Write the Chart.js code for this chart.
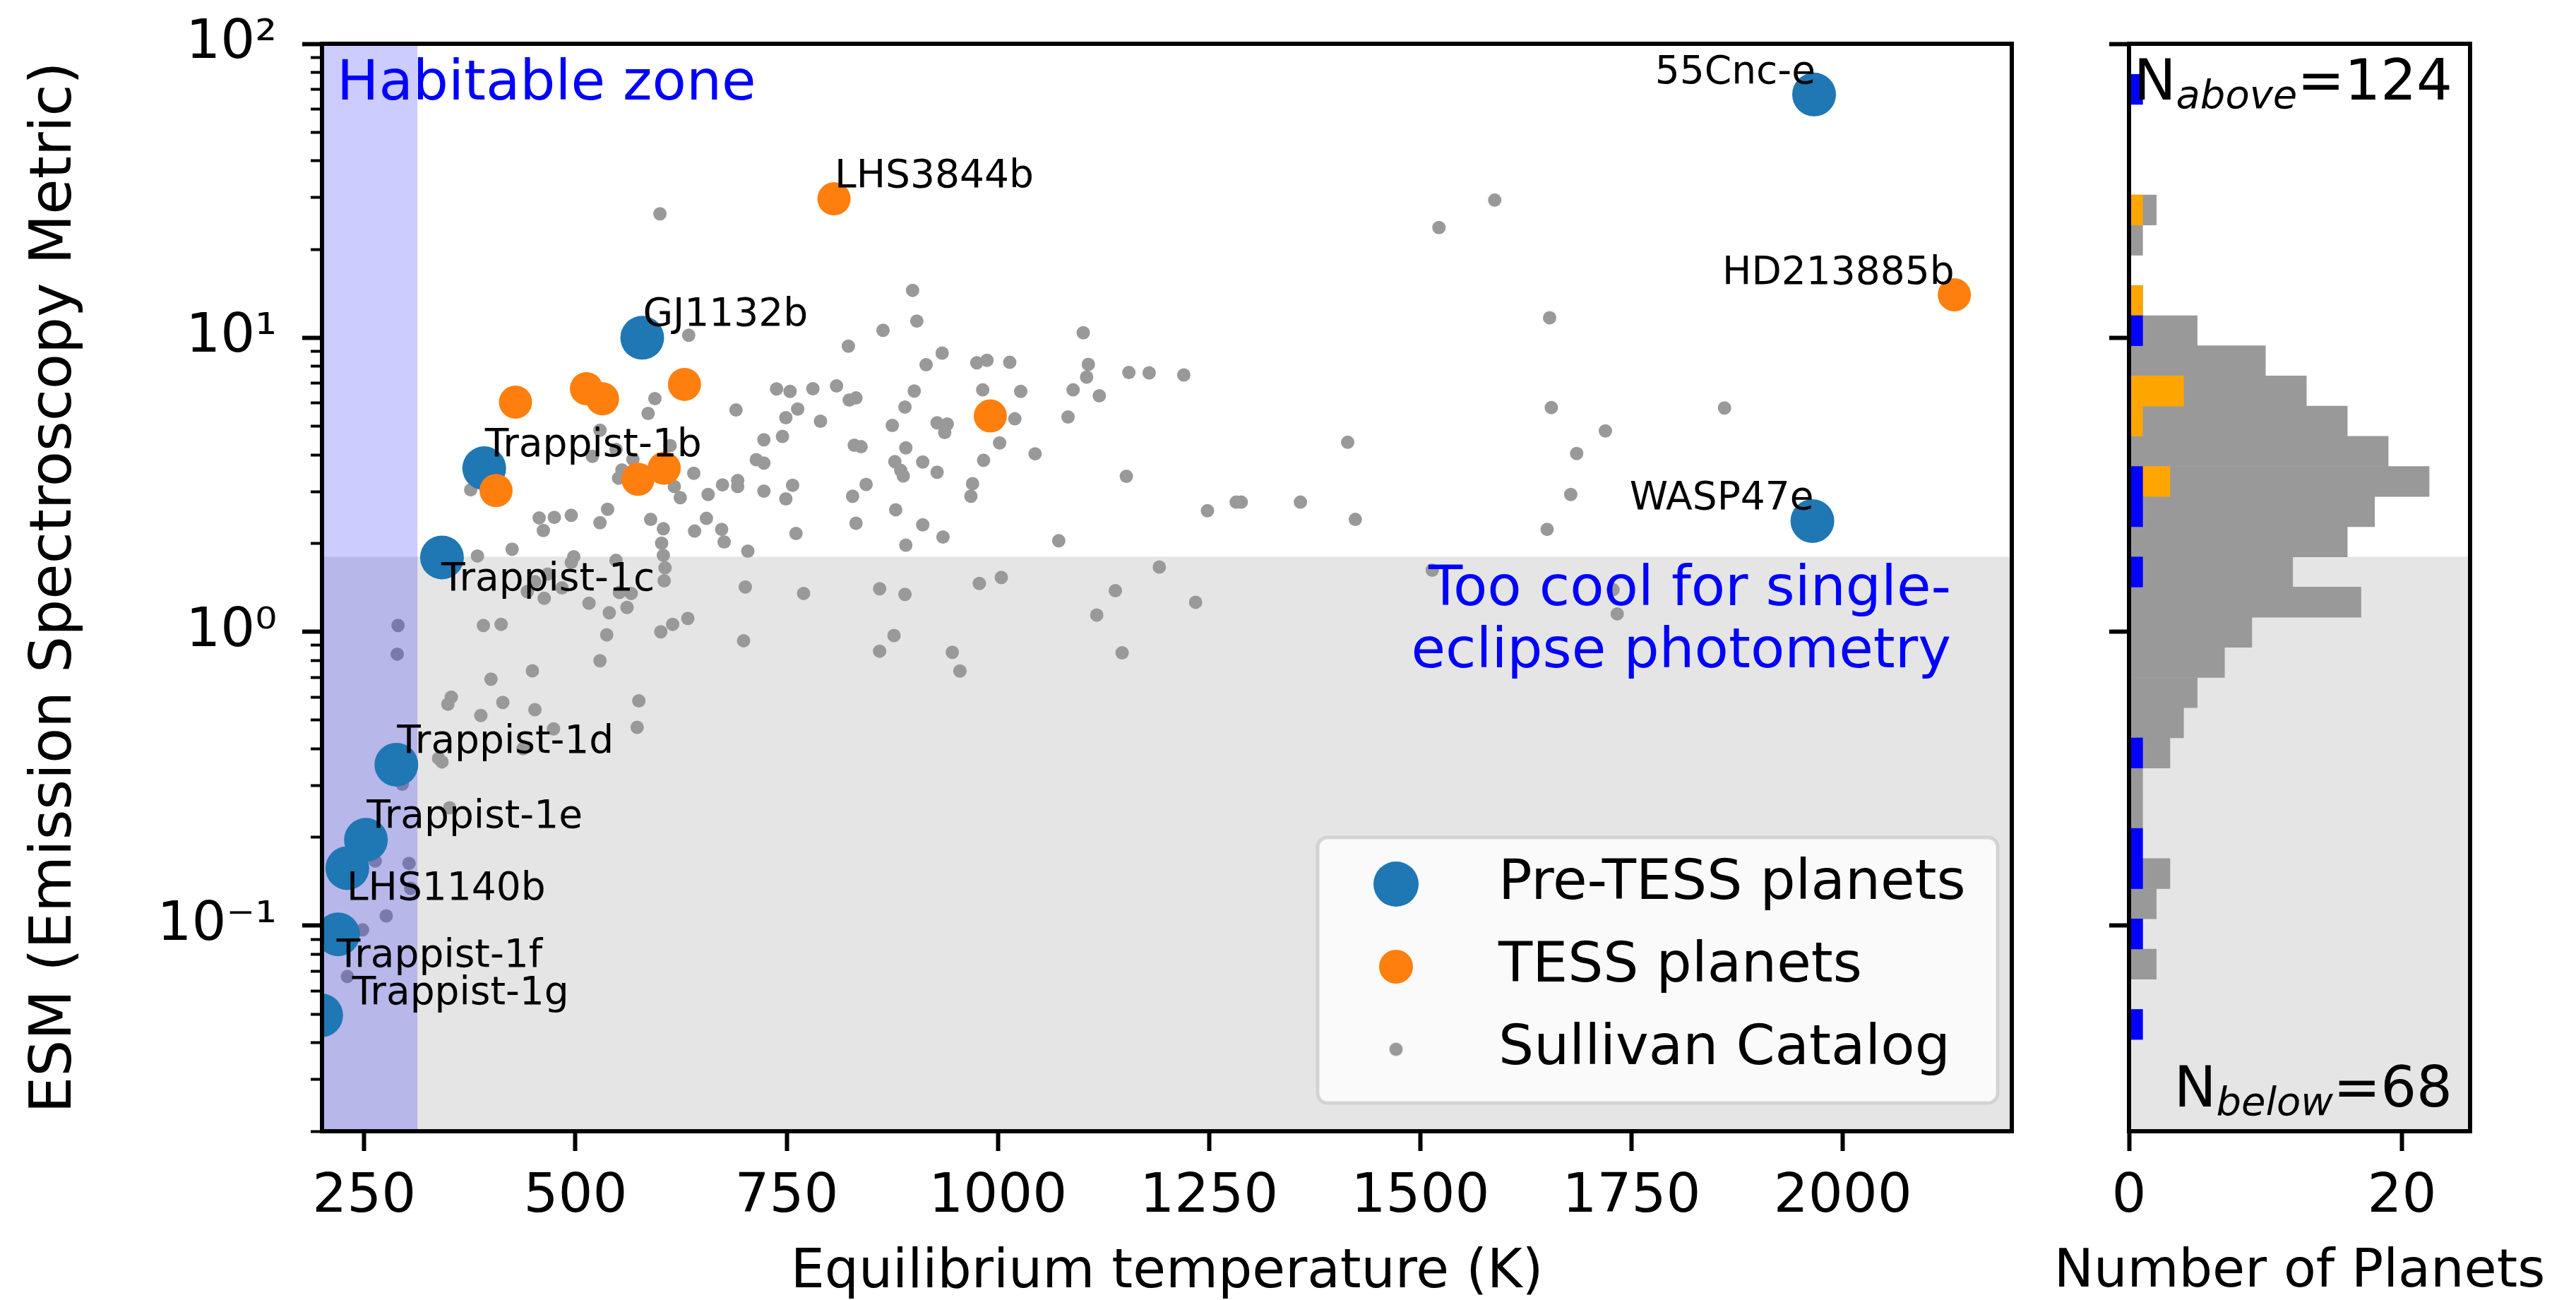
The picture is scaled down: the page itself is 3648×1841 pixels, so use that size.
<!DOCTYPE html>
<html>
<head>
<meta charset="utf-8">
<title>ESM vs equilibrium temperature</title>
<script src="https://cdn.jsdelivr.net/npm/chart.js@4.4.1/dist/chart.umd.min.js"></script>
<style>
  html, body { margin: 0; padding: 0; background: #ffffff; }
  body { position: relative; width: 3648px; height: 1841px; overflow: hidden; }
  canvas { position: absolute; top: 0; }
  #esmChart { left: 0; }
  #histChart { left: 2875px; }
</style>
</head>
<body>
<canvas id="esmChart" width="2880" height="1841" style="width:2880px;height:1841px"></canvas>
<canvas id="histChart" width="762" height="1841" style="width:762px;height:1841px"></canvas>
<script>
// ---------------- data ----------------
const preTessNames = ['55Cnc-e', 'GJ1132b', 'Trappist-1b', 'WASP47e', 'Trappist-1c',
                      'Trappist-1d', 'Trappist-1e', 'LHS1140b', 'Trappist-1f', 'Trappist-1g'];
const preTessTeq = [1966, 579, 392, 1964, 342, 288, 252, 230, 219, 199];
const preTessEsm = [67.2, 10.0, 3.60, 2.38, 1.79, 0.353, 0.196, 0.157, 0.0935, 0.0496];

const tessNames = ['LHS3844b', 'HD213885b', '', '', '', '', '', '', '', ''];
const tessTeq = [806, 2132, 429, 513, 532, 629, 991, 406, 574, 605];
const tessEsm = [29.7, 14.0, 6.04, 6.71, 6.20, 6.94, 5.42, 3.02, 3.30, 3.60];

const sullivanTeq = [
  600, 1588, 1522, 1653, 1655, 1860, 1719, 1685, 1414, 1678, 1650, 1423, 1358, 1288, 1282, 1728, 1733, 1514,
  634, 594, 586, 690, 529, 612, 548, 520, 568, 723, 714, 723, 555, 551, 640, 376, 617, 624, 674, 692, 692, 657, 723,
  457, 475, 495, 462, 538, 529, 589, 604, 602, 604, 606, 605, 641, 655, 673, 676, 704, 425, 384, 498, 548,
  495, 467, 452, 443, 463, 484, 516, 540, 561, 566, 552, 701, 770, 860, 890, 978, 1004,
  391, 412, 290, 289, 537, 529, 601, 615, 633, 699, 449, 400, 353, 349, 414, 388, 452, 575, 573, 474, 438, 338, 342, 295, 351, 263, 303, 305,
  276, 248, 230,
  877, 860, 946, 955, 1139, 1117, 1234, 1147,
  899, 904, 864, 823, 934, 915, 975, 987, 1014, 1101, 1107, 1105, 1155, 1179, 1220, 1089, 1120, 1083, 982, 1027,
  1020, 1002, 1044, 983, 970, 968, 1152, 1248, 1072, 1191,
  738, 754, 781, 809, 824, 832, 763, 749, 790, 901, 890, 875, 928, 940, 937, 745, 830, 838, 891, 878, 885, 888,
  911, 928, 757, 749, 844, 828, 879, 832, 911, 935, 891, 761
];
const sullivanEsm = [
  26.4, 29.4, 23.7, 11.7, 5.79, 5.77, 4.82, 4.04, 4.41, 2.93, 2.23, 2.41, 2.76, 2.76, 2.76, 1.39, 1.15, 1.62,
  10.2, 6.21, 5.53, 5.68, 4.85, 4.30, 4.17, 3.95, 3.86, 4.50, 3.85, 3.75, 3.55, 3.33, 3.46, 3.04, 3.12, 2.86, 3.16, 3.27, 3.12, 2.93, 3.01,
  2.44, 2.45, 2.49, 2.21, 2.61, 2.35, 2.41, 2.24, 2.00, 1.82, 1.65, 1.49, 2.20, 2.43, 2.23, 2.02, 1.88, 1.91, 1.81, 1.80, 1.75,
  1.72, 1.57, 1.48, 1.37, 1.30, 1.41, 1.25, 1.16, 1.21, 1.35, 1.36, 1.42, 1.35, 1.40, 1.34, 1.46, 1.53,
  1.05, 1.06, 1.05, 0.839, 0.976, 0.797, 1.00, 1.06, 1.11, 0.932, 0.736, 0.690, 0.599, 0.567, 0.575, 0.519, 0.543, 0.582,
  0.473, 0.467, 0.400, 0.371, 0.361, 0.303, 0.252, 0.166, 0.163, 0.134,
  0.108, 0.0969, 0.0672,
  0.971, 0.859, 0.851, 0.735, 1.38, 1.14, 1.26, 0.848,
  14.5, 11.4, 10.6, 9.36, 8.87, 8.10, 8.22, 8.38, 8.25, 10.4, 8.12, 7.35, 7.62, 7.60, 7.47, 6.65, 6.35, 5.38, 6.65, 6.57,
  5.30, 4.39, 4.03, 3.83, 3.19, 2.89, 3.38, 2.58, 2.04, 1.66,
  6.70, 6.57, 6.71, 6.86, 6.14, 6.24, 5.72, 5.35, 5.20, 6.59, 5.81, 5.03, 5.14, 5.09, 4.76, 4.62, 4.31, 4.26, 4.22, 3.79, 3.54, 3.39,
  3.78, 3.49, 3.15, 2.83, 3.17, 2.89, 2.60, 2.34, 2.31, 2.10, 1.97, 2.16
];

// histogram: ESM bin centres (log-spaced) and counts per bin
const histBinEsm = [0.04616, 0.05847, 0.07405, 0.09378, 0.1188, 0.1504, 0.1905, 0.2413,
                    0.3056, 0.3870, 0.4901, 0.6208, 0.7861, 0.9956, 1.261, 1.597,
                    2.023, 2.562, 3.244, 4.109, 5.204, 6.590, 8.346, 10.571,
                    13.387, 16.955, 21.474, 27.195, 34.444, 43.622, 55.25, 69.97];
const histSullivan = [0, 0, 2, 1, 2, 3, 0, 1, 1, 3, 4, 5, 7, 9, 17, 12, 16, 18, 22, 19, 16, 13, 10, 5, 1, 0, 1, 2, 0, 0, 0, 0];
const histTess     = [0, 0, 0, 0, 0, 0, 0, 0, 0, 0, 0, 0, 0, 0, 0, 0, 0, 0, 3, 0, 1, 4, 0, 0, 1, 0, 0, 1, 0, 0, 0, 0];
const histPreTess  = [1, 0, 0, 1, 0, 1, 1, 0, 0, 1, 0, 0, 0, 0, 0, 1, 0, 1, 1, 0, 0, 0, 0, 1, 0, 0, 0, 0, 0, 0, 0, 1];

// axes
const teqRange = [200, 2200];
const esmRange = [0.02, 100];
const countRange = [0, 25];
const xTickValues = [250, 500, 750, 1000, 1250, 1500, 1750, 2000];
const yTickValues = [0.02, 0.03, 0.04, 0.05, 0.06, 0.07, 0.08, 0.09,
                     0.1, 0.2, 0.3, 0.4, 0.5, 0.6, 0.7, 0.8, 0.9,
                     1, 2, 3, 4, 5, 6, 7, 8, 9,
                     10, 20, 30, 40, 50, 60, 70, 80, 90, 100];
const yTickLabels = { 0.1: '10\u207B\u00B9', 1: '10\u2070', 10: '10\u00B9', 100: '10\u00B2' };
const histTickValues = [0, 20];
const histYTickValues = [0.1, 1, 10, 100];

// regions and summary numbers
const esmCut = 1.8;
const habitableTeq = [200, 313];
const nAbove = 124;
const nBelow = 68;

// ---------------- styling ----------------
const FONT = 'DejaVu Sans';
Chart.defaults.font.family = FONT;
Chart.defaults.color = '#000000';

const COLORS = {
  pre: '#1f77b4', tess: '#ff7f0e', sullivan: '#999999',
  band: '#e5e5e5', hz: 'rgba(0, 0, 255, 0.2)', note: '#0000ff',
  histTess: '#ffa500', histPre: '#0000ff'
};
const RADIUS = { pre: 31, tess: 23.5, sullivan: 9.5 };
const LEGEND_RADIUS = [32, 24, 9.5];
const FRAME_W = 6;
const TICK_LEN = 28;
const TICK_FONT = 77;

const labelPlacement = {
  default:      { dx: 1,  dy: -17, align: 'left' },
  '55Cnc-e':    { dx: 2,  dy: -16, align: 'right' },
  'HD213885b':  { dx: 0,  dy: -15, align: 'right' },
  'WASP47e':    { dx: 2,  dy: -17, align: 'right' },
  'Trappist-1c':{ dx: -1, dy: 47,  align: 'left' },
  'LHS1140b':   { dx: -1, dy: 45,  align: 'left' },
  'Trappist-1f':{ dx: -2, dy: 46,  align: 'left' },
  'Trappist-1g':{ dx: 44, dy: -16, align: 'left' }
};

const legendBox = { x: 1866, y: 1186, w: 963, h: 376, r: 14, left: 1833.5, top: 1174.5 };

const pairs = (xs, ys) => xs.map((v, i) => ({ x: v, y: ys[i] }));

function markerCanvas(color, r) {
  const c = document.createElement('canvas');
  const s = Math.ceil(2 * r + 4);
  c.width = s; c.height = s;
  const g = c.getContext('2d');
  g.fillStyle = color;
  g.beginPath(); g.arc(s / 2, s / 2, r, 0, Math.PI * 2); g.fill();
  return c;
}

function drawText(ctx, text, x, y, font, color, align, baseline) {
  ctx.save();
  ctx.font = font;
  ctx.fillStyle = color;
  ctx.textAlign = align || 'left';
  ctx.textBaseline = baseline || 'alphabetic';
  ctx.fillText(text, x, y);
  ctx.restore();
}

function roundRectPath(ctx, x, y, w, h, r) {
  ctx.beginPath();
  ctx.moveTo(x + r, y);
  ctx.lineTo(x + w - r, y); ctx.arcTo(x + w, y, x + w, y + r, r);
  ctx.lineTo(x + w, y + h - r); ctx.arcTo(x + w, y + h, x + w - r, y + h, r);
  ctx.lineTo(x + r, y + h); ctx.arcTo(x, y + h, x, y + h - r, r);
  ctx.lineTo(x, y + r); ctx.arcTo(x, y, x + r, y, r);
  ctx.closePath();
}

const isMajor = c => !!(c.tick && c.tick.major);
const tickWidth = c => isMajor(c) ? 6 : 4;
const tickDash = c => isMajor(c) ? [] : [0, 12, 40, 40];

// ---------------- scatter panel ----------------
const esmPanel = {
  id: 'esmPanel',
  afterLayout(chart) {
    const lg = chart.legend;
    if (!lg) return;
    lg.left = legendBox.left; lg.top = legendBox.top;
    lg.right = lg.left + 1200; lg.bottom = lg.top + 500;
  },
  beforeDraw(chart) {
    const { ctx, chartArea: a, scales: { y } } = chart;
    const yc = y.getPixelForValue(esmCut);
    ctx.save();
    ctx.fillStyle = '#ffffff';
    ctx.fillRect(a.left, a.top, a.right - a.left, a.bottom - a.top);
    ctx.fillStyle = COLORS.band;
    ctx.fillRect(a.left, yc, a.right - a.left, a.bottom - yc);
    roundRectPath(ctx, legendBox.x, legendBox.y, legendBox.w, legendBox.h, legendBox.r);
    ctx.fillStyle = 'rgba(255, 255, 255, 0.8)';
    ctx.fill();
    ctx.lineWidth = 5;
    ctx.strokeStyle = 'rgba(204, 204, 204, 0.8)';
    ctx.stroke();
    ctx.restore();
  },
  afterDatasetDraw(chart, args) {
    if (chart.data.datasets[args.index].label !== 'Sullivan Catalog') return;
    const { ctx, chartArea: a, scales: { x } } = chart;
    const x0 = x.getPixelForValue(habitableTeq[0]);
    const x1 = x.getPixelForValue(habitableTeq[1]);
    ctx.save();
    ctx.fillStyle = COLORS.hz;
    ctx.fillRect(x0, a.top, x1 - x0, a.bottom - a.top);
    ctx.restore();
  },
  afterDatasetsDraw(chart) {
    const { ctx, chartArea: a, scales: { x, y } } = chart;
    const labelFont = '55px "' + FONT + '"';
    [[preTessNames, preTessTeq, preTessEsm], [tessNames, tessTeq, tessEsm]].forEach(([names, teq, esm]) => {
      names.forEach((name, i) => {
        if (!name) return;
        const p = labelPlacement[name] || labelPlacement.default;
        drawText(ctx, name, x.getPixelForValue(teq[i]) + p.dx, y.getPixelForValue(esm[i]) + p.dy,
                 labelFont, '#000000', p.align);
      });
    });
    const noteFont = '79px "' + FONT + '"';
    drawText(ctx, 'Habitable zone', 477, 141, noteFont, COLORS.note, 'left');
    drawText(ctx, 'Too cool for single-', 2763, 857, noteFont, COLORS.note, 'right');
    drawText(ctx, 'eclipse photometry', 2763, 945, noteFont, COLORS.note, 'right');
    ctx.save();
    ctx.lineWidth = FRAME_W;
    ctx.strokeStyle = '#000000';
    ctx.strokeRect(a.left, a.top, a.right - a.left, a.bottom - a.top);
    ctx.restore();
  }
};

const legendMarkers = [
  markerCanvas(COLORS.pre, LEGEND_RADIUS[0]),
  markerCanvas(COLORS.tess, LEGEND_RADIUS[1]),
  markerCanvas(COLORS.sullivan, LEGEND_RADIUS[2])
];

new Chart(document.getElementById('esmChart'), {
  type: 'scatter',
  data: {
    datasets: [
      { label: 'Pre-TESS planets', data: pairs(preTessTeq, preTessEsm), backgroundColor: COLORS.pre,
        pointRadius: RADIUS.pre, pointBorderWidth: 0, order: 1 },
      { label: 'TESS planets', data: pairs(tessTeq, tessEsm), backgroundColor: COLORS.tess,
        pointRadius: RADIUS.tess, pointBorderWidth: 0, order: 0 },
      { label: 'Sullivan Catalog', data: pairs(sullivanTeq, sullivanEsm), backgroundColor: COLORS.sullivan,
        pointRadius: RADIUS.sullivan, pointBorderWidth: 0, order: 2 }
    ]
  },
  options: {
    responsive: false, animation: false, devicePixelRatio: 1, events: [],
    layout: { padding: { left: 0, right: 12, top: 62, bottom: 0 } },
    plugins: {
      tooltip: { enabled: false },
      legend: {
        display: true, position: 'chartArea', align: 'start',
        labels: {
          usePointStyle: true, pointStyleWidth: 211, padding: 38,
          font: { size: 79 }, color: '#000000',
          generateLabels: chart => chart.data.datasets.map((ds, i) => ({
            text: ds.label, pointStyle: legendMarkers[i], fillStyle: ds.backgroundColor,
            strokeStyle: ds.backgroundColor, lineWidth: 0, hidden: false, datasetIndex: i, fontColor: '#000000'
          }))
        }
      }
    },
    scales: {
      x: {
        type: 'linear', position: 'bottom', min: teqRange[0], max: teqRange[1],
        afterBuildTicks: s => { s.ticks = xTickValues.map(v => ({ value: v })); },
        afterFit: s => { s.height = 239; },
        border: { display: false },
        grid: { drawOnChartArea: false, drawTicks: true, tickLength: TICK_LEN, tickWidth: 6, tickColor: '#000000' },
        ticks: { font: { size: TICK_FONT }, padding: 20, maxRotation: 0, autoSkip: false, color: '#000000',
                 callback: v => String(v) },
        title: { display: true, text: 'Equilibrium temperature (K)', color: '#000000',
                 font: { size: 76, lineHeight: 1 }, padding: { top: 0, bottom: 0 } }
      },
      y: {
        type: 'logarithmic', position: 'left', min: esmRange[0], max: esmRange[1],
        afterBuildTicks: s => { s.ticks = yTickValues.map(v => ({ value: v, major: (v in yTickLabels) })); },
        afterFit: s => { s.width = 456; },
        border: { display: false },
        grid: { drawOnChartArea: false, drawTicks: true, tickLength: TICK_LEN, tickWidth: tickWidth,
                tickBorderDash: tickDash, tickColor: '#000000' },
        ticks: { font: { size: TICK_FONT, lineHeight: 0.5 }, padding: 36, autoSkip: false, color: '#000000',
                 callback: v => (yTickLabels[v] !== undefined ? yTickLabels[v] : '') },
        title: { display: true, text: 'ESM (Emission Spectroscopy Metric)', color: '#000000',
                 font: { size: 82, lineHeight: 1 }, padding: { top: 38, bottom: 0 } }
      }
    }
  },
  plugins: [esmPanel]
});

// ---------------- histogram panel ----------------
function drawCountLabel(ctx, sub, value, xRight, yBase) {
  const big = '80px "' + FONT + '"';
  const small = 'italic 56px "' + FONT + '"';
  ctx.save();
  ctx.fillStyle = '#000000';
  ctx.textBaseline = 'alphabetic';
  ctx.textAlign = 'left';
  ctx.font = big;
  const wN = ctx.measureText('N').width;
  const tail = '=' + value;
  const wT = ctx.measureText(tail).width;
  ctx.font = small;
  const wS = ctx.measureText(sub).width;
  let xx = xRight - (wN + wS + wT);
  ctx.font = big; ctx.fillText('N', xx, yBase); xx += wN;
  ctx.font = small; ctx.fillText(sub, xx, yBase + 12); xx += wS;
  ctx.font = big; ctx.fillText(tail, xx, yBase);
  ctx.restore();
}

const histPanel = {
  id: 'histPanel',
  beforeDraw(chart) {
    const { ctx, chartArea: a, scales: { y } } = chart;
    const yc = y.getPixelForValue(esmCut);
    ctx.save();
    ctx.fillStyle = '#ffffff';
    ctx.fillRect(a.left, a.top, a.right - a.left, a.bottom - a.top);
    ctx.fillStyle = COLORS.band;
    ctx.fillRect(a.left, yc, a.right - a.left, a.bottom - yc);
    ctx.restore();
  },
  afterDatasetsDraw(chart) {
    const { ctx, chartArea: a } = chart;
    drawCountLabel(ctx, 'above', nAbove, 598, 141);
    drawCountLabel(ctx, 'below', nBelow, 598, 1567);
    drawText(ctx, 'Number of Planets', (a.left + a.right) / 2, 1803, '75px "' + FONT + '"', '#000000', 'center', 'middle');
    ctx.save();
    ctx.lineWidth = FRAME_W;
    ctx.strokeStyle = '#000000';
    ctx.strokeRect(a.left, a.top, a.right - a.left, a.bottom - a.top);
    ctx.restore();
  }
};

new Chart(document.getElementById('histChart'), {
  type: 'bar',
  data: {
    datasets: [
      { label: 'Sullivan Catalog', data: pairs(histSullivan, histBinEsm), backgroundColor: COLORS.sullivan, order: 3 },
      { label: 'TESS planets', data: pairs(histTess, histBinEsm), backgroundColor: COLORS.histTess, order: 2 },
      { label: 'Pre-TESS planets', data: pairs(histPreTess, histBinEsm), backgroundColor: COLORS.histPre, order: 1 }
    ]
  },
  options: {
    indexAxis: 'y',
    responsive: false, animation: false, devicePixelRatio: 1, events: [],
    datasets: { bar: { grouped: false, barPercentage: 1, categoryPercentage: 1, borderWidth: 0 } },
    layout: { padding: { left: 0, right: 139, top: 62, bottom: 0 } },
    plugins: { legend: { display: false }, tooltip: { enabled: false } },
    scales: {
      x: {
        type: 'linear', position: 'bottom', min: countRange[0], max: countRange[1],
        afterBuildTicks: s => { s.ticks = histTickValues.map(v => ({ value: v })); },
        afterFit: s => { s.height = 239; },
        border: { display: false },
        grid: { drawOnChartArea: false, drawTicks: true, tickLength: TICK_LEN, tickWidth: 6, tickColor: '#000000' },
        ticks: { font: { size: TICK_FONT }, padding: 20, maxRotation: 0, autoSkip: false, color: '#000000',
                 callback: v => String(v) }
      },
      y: {
        type: 'logarithmic', position: 'left', min: esmRange[0], max: esmRange[1], offset: false,
        afterBuildTicks: s => { s.ticks = histYTickValues.map(v => ({ value: v, major: true })); },
        afterFit: s => { s.width = 140; },
        border: { display: false },
        grid: { offset: false, drawOnChartArea: false, drawTicks: true, tickLength: TICK_LEN, tickWidth: 6,
                tickColor: '#000000' },
        ticks: { display: false }
      }
    }
  },
  plugins: [histPanel]
});
</script>
</body>
</html>
